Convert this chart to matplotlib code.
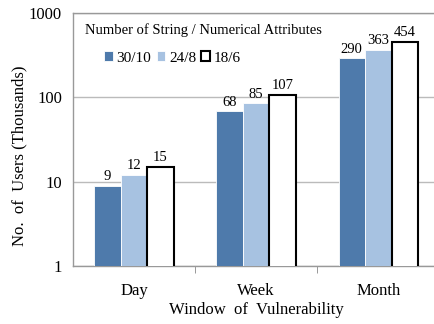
import matplotlib.pyplot as plt
import numpy as np

plt.rcParams['font.family'] = ['Liberation Serif', 'DejaVu Serif']

windows = ['Day', 'Week', 'Month']
series_labels = ['30/10', '24/8', '18/6']
users_30_10 = [9, 68, 290]
users_24_8 = [12, 85, 363]
users_18_6 = [15, 107, 454]

fig = plt.figure(figsize=(4.35, 3.24), dpi=100)
ax = fig.add_axes([73 / 435, 1 - 266 / 324, 1 - 73 / 435 + 0.01, (266 - 13) / 324])

x = np.arange(len(windows))
w = 0.217
styles = [
    dict(color='#4E7AAB', edgecolor='white', linewidth=0.6),
    dict(color='#A7C2E1', edgecolor='white', linewidth=0.6),
    dict(color='white', edgecolor='black', linewidth=1.5),
]
data = [users_30_10, users_24_8, users_18_6]
handles = []
for i, (vals, st) in enumerate(zip(data, styles)):
    bars = ax.bar(x + (i - 1) * w, vals, width=w, label=series_labels[i], zorder=3, **st)
    handles.append(bars)
    for b, v in zip(bars, vals):
        ax.annotate(str(v), (b.get_x() + b.get_width() / 2, v), xytext=(0, 2),
                    textcoords='offset points', ha='center', va='bottom', fontsize=10.5)

ax.set_yscale('log')
ax.set_ylim(1, 1000)
ax.set_yticks([1, 10, 100, 1000])
ax.set_yticklabels(['1', '10', '100', '1000'])
ax.minorticks_off()
ax.set_xlim(-0.5, 2.5)
ax.set_xticks(x)
ax.set_xticklabels(windows)
ax.set_xticks([0.5, 1.5], minor=True)
ax.tick_params(axis='x', which='major', length=0, pad=12, labelsize=12)
ax.tick_params(axis='x', which='minor', length=5, color='#888888', direction='out')
ax.tick_params(axis='y', length=0, labelsize=12, pad=8)
ax.grid(axis='y', color='#BBBBBB', linewidth=1, zorder=0)
for s in ax.spines.values():
    s.set_color('#999999')
    s.set_linewidth(1)

ax.set_ylabel('No.  of  Users (Thousands)', fontsize=12, va='center')
ax.yaxis.set_label_coords(-0.146, 0.435)
ax.set_xlabel('Window  of  Vulnerability', fontsize=12, va='center')
ax.xaxis.set_label_coords(0.5, -0.174)

ax.text(12 / 362, (266 - 30) / 253, 'Number of String / Numerical Attributes',
        transform=ax.transAxes, ha='left', va='center', fontsize=10.5)
ax.legend(handles=handles, labels=series_labels, loc='center left',
          bbox_to_anchor=(31 / 362, (266 - 58) / 253), ncol=3, frameon=False,
          fontsize=11, handlelength=0.55, handleheight=0.55, handletextpad=0.25,
          columnspacing=0.35, borderpad=0, borderaxespad=0)

fig.savefig('out.png', dpi=100)
